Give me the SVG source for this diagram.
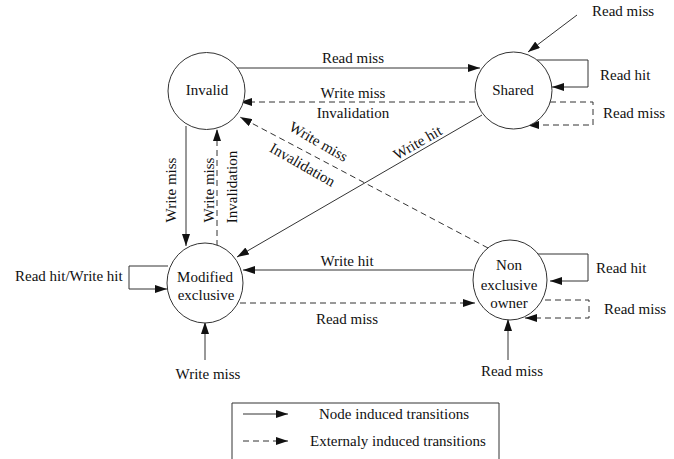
<svg xmlns="http://www.w3.org/2000/svg" width="674" height="459" viewBox="0 0 674 459">
<defs>
<marker id="ah" markerUnits="userSpaceOnUse" markerWidth="13" markerHeight="8" refX="12" refY="4" orient="auto">
<path d="M0,0 L12,4 L0,8 z" fill="#111"/>
</marker>
</defs>
<style>
text{font-family:"Liberation Serif","Times New Roman",serif;font-size:15px;fill:#111}
.n{fill:#fff;stroke:#333;stroke-width:1}
.c{fill:none;stroke:#333;stroke-width:1}
.d{stroke-dasharray:6,4}
.a{marker-end:url(#ah)}
.m{text-anchor:middle}
</style>
<rect width="674" height="459" fill="#fff"/>
<g id="connectors">
<!-- Invalid -> Shared read miss -->
<line class="c a" x1="232" y1="68" x2="480" y2="68"/>
<text class="m" x="353" y="63">Read miss</text>
<!-- Shared -> Invalid write miss dashed -->
<line class="c d a" x1="475" y1="102" x2="240" y2="102"/>
<text class="m" x="353" y="98">Write miss</text>
<text class="m" x="353" y="118">Invalidation</text>
<!-- NEO -> Invalid dashed diagonal -->
<line class="c d a" x1="488" y1="248" x2="240" y2="117"/>
<text class="m" transform="translate(316,146) rotate(30)">Write miss</text>
<text class="m" transform="translate(300,169) rotate(30)">Invalidation</text>
<!-- Shared -> Modified write hit -->
<line class="c a" x1="482" y1="115" x2="237" y2="257"/>
<text class="m" transform="translate(420,147) rotate(-30)">Write hit</text>
<!-- NEO -> Modified write hit -->
<line class="c a" x1="473" y1="270" x2="243" y2="270"/>
<text class="m" x="347" y="266">Write hit</text>
<!-- Modified -> NEO read miss dashed -->
<line class="c d a" x1="240" y1="303" x2="475" y2="303"/>
<text class="m" x="347" y="324">Read miss</text>
<!-- Invalid -> Modified write miss -->
<line class="c a" x1="186" y1="126" x2="186" y2="246"/>
<text class="m" transform="translate(176,190) rotate(-90)">Write miss</text>
<!-- Modified -> Invalid dashed -->
<line class="c d a" x1="217" y1="246" x2="217" y2="129"/>
<text class="m" transform="translate(214,190) rotate(-90)">Write miss</text>
<text class="m" transform="translate(237,187) rotate(-90)">Invalidation</text>
<!-- External read miss into Shared -->
<line class="c a" x1="577" y1="15" x2="528" y2="52"/>
<text x="592" y="16">Read miss</text>
<!-- Shared loops -->
<polyline class="c a" points="537,60 588,60 588,87 552,87"/>
<text x="600" y="80">Read hit</text>
<polyline class="c d a" points="550,102 593,102 593,125 527,125"/>
<text x="603" y="118">Read miss</text>
<!-- Modified loop -->
<polyline class="c a" points="168,266 129,266 129,289 167,289"/>
<text x="15" y="281">Read hit/Write hit</text>
<!-- External write miss into Modified -->
<line class="c a" x1="205" y1="360" x2="205" y2="322"/>
<text class="m" x="208" y="379">Write miss</text>
<!-- NEO loops -->
<polyline class="c a" points="538,254 588,254 588,281 550,281"/>
<text x="596" y="273">Read hit</text>
<polyline class="c d a" points="545,300 589,300 589,318 525,318"/>
<text x="604" y="314">Read miss</text>
<!-- External read miss into NEO -->
<line class="c a" x1="508" y1="360" x2="508" y2="319"/>
<text class="m" x="512" y="376">Read miss</text>
</g>
<g id="invalid">
<circle class="n" cx="206.5" cy="91" r="38.5"/>
<text class="m" x="207" y="95">Invalid</text>
</g>
<g id="shared">
<circle class="n" cx="513.5" cy="90.5" r="38.5"/>
<text class="m" x="513" y="95">Shared</text>
</g>
<g id="modified-exclusive">
<ellipse class="n" cx="205" cy="283" rx="38" ry="40"/>
<text class="m" x="205" y="282">Modified</text>
<text class="m" x="206" y="300">exclusive</text>
</g>
<g id="non-exclusive-owner">
<ellipse class="n" cx="510" cy="280" rx="37" ry="40"/>
<text class="m" x="509" y="270">Non</text>
<text class="m" x="509" y="290">exclusive</text>
<text class="m" x="509" y="308">owner</text>
</g>
<g id="legend">
<path class="c" d="M232,465 V403 H499 V465"/>
<line class="c a" x1="243" y1="414" x2="288" y2="414"/>
<text x="319" y="419">Node induced transitions</text>
<line class="c d a" x1="243" y1="441" x2="288" y2="441"/>
<text x="310" y="446">Externaly induced transitions</text>
</g>
</svg>
